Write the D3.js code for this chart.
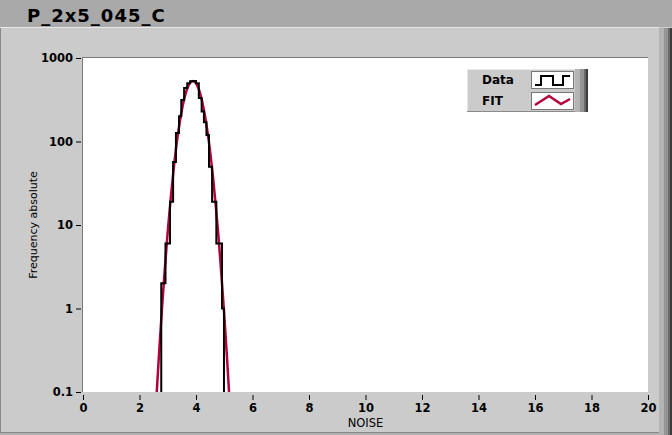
<!DOCTYPE html>
<html><head><meta charset="utf-8">
<script src="https://cdn.jsdelivr.net/npm/d3@7"></script>
<style>
html,body{margin:0;padding:0;background:#cbcbcb;}
svg{display:block;font-family:"DejaVu Sans",sans-serif;}
</style></head>
<body>
<svg id="c" width="672" height="435"></svg>
<script>
const title = "P_2x5_045_C";
const xLabel = "NOISE";
const yLabel = "Frequency absolute";
const xTicks = [0,2,4,6,8,10,12,14,16,18,20];
const yTicks = [0.1,1,10,100,1000];
const yTickLabels = ["0.1","1","10","100","1000"];
const seriesNames = ["Data","FIT"];
// histogram: bin start and count (last entry closes the histogram)
const binStart = [2.77,2.92,3.08,3.19,3.29,3.40,3.48,3.58,3.69,3.79,3.90,4.00,4.10,4.20,4.28,4.37,4.46,4.57,4.72,4.92,4.99];
const counts =   [2,   6,   19,  57,  126, 200, 314, 437, 500, 525, 530, 500, 331, 228, 170, 120, 50,  19,  6,   1,   0];
// fit curve
const fitX = [2.6,2.7,2.8,2.9,3.0,3.1,3.2,3.3,3.4,3.5,3.6,3.7,3.8,3.9,4.0,4.1,4.2,4.3,4.4,4.5,4.6,4.7,4.8,4.9,5.0,5.1,5.2];
const fitY = [0.087,0.32,1.05,3.1,8.4,20,44,86,151,239,342,439,509,531,498,422,321,220,136,76,38,17,7,2.5,0.84,0.25,0.067];

const svg = d3.select("#c");
// title bar
svg.append("rect").attr("x",0).attr("y",0).attr("width",672).attr("height",27).attr("fill","#a9a9a9");
svg.append("text").attr("x",27).attr("y",22).attr("font-size",18).attr("font-weight","bold")
  .attr("letter-spacing",1).attr("fill","#000").text(title);
// panel
svg.append("rect").attr("x",0).attr("y",27).attr("width",672).attr("height",408).attr("fill","#cbcbcb");
svg.append("line").attr("x1",0).attr("x2",659).attr("y1",27.5).attr("y2",27.5).attr("stroke","#e6e6e6");
svg.append("line").attr("x1",0.5).attr("x2",0.5).attr("y1",28).attr("y2",435).attr("stroke","#8a8a8a");
svg.append("line").attr("x1",0).attr("x2",672).attr("y1",432.5).attr("y2",432.5).attr("stroke","#8a8a8a");
svg.append("rect").attr("x",0).attr("y",433).attr("width",672).attr("height",2).attr("fill","#b0b0b0");
[["#b4b4b4",659,5],["#959595",664,4],["#6a6a6a",668,2],["#3c3c3c",670,2]].forEach(([c,x,w])=>{
  svg.append("rect").attr("x",x).attr("y",28).attr("width",w).attr("height",407).attr("fill",c);
});

const L=83,R=648,T=58,B=392;
const x = d3.scaleLinear().domain([0,20]).range([L,R]);
const y = d3.scaleLog().domain([0.1,1000]).range([B,T]);

svg.append("rect").attr("x",L).attr("y",T).attr("width",R-L).attr("height",B-T).attr("fill","#fff");
svg.append("line").attr("x1",L).attr("x2",R).attr("y1",T-0.5).attr("y2",T-0.5).attr("stroke","#7a7a7a");
svg.append("line").attr("x1",L-0.5).attr("x2",L-0.5).attr("y1",T-1).attr("y2",B).attr("stroke","#7a7a7a");

// axes
const xAxis = d3.axisBottom(x).tickValues(xTicks).tickSize(5).tickPadding(4).tickFormat(d3.format("d"));
const gx = svg.append("g").attr("transform",`translate(0,${B+3})`).call(xAxis);
gx.select(".domain").remove();
gx.selectAll("line").attr("stroke","#000");
gx.selectAll("text").attr("font-size",11.5).attr("font-weight","bold").attr("font-family","DejaVu Sans").attr("fill","#000");

const yAxis = d3.axisLeft(y).tickValues(yTicks).tickSize(5).tickPadding(3).tickFormat((d,i)=>yTickLabels[i]);
const gy = svg.append("g").attr("transform",`translate(${L-2},0)`).call(yAxis);
gy.select(".domain").remove();
gy.selectAll("line").attr("stroke","#000");
gy.selectAll("text").attr("font-size",11.5).attr("font-weight","bold").attr("font-family","DejaVu Sans").attr("fill","#000");

svg.append("text").attr("x",(L+R)/2).attr("y",427).attr("text-anchor","middle").attr("font-size",11.5).text(xLabel);
svg.append("text").attr("transform",`translate(37,${(T+B)/2}) rotate(-90)`).attr("text-anchor","middle")
  .attr("font-size",11).text(yLabel);

// clip
svg.append("clipPath").attr("id","clip").append("rect").attr("x",L).attr("y",T).attr("width",R-L).attr("height",B-T);
const plot = svg.append("g").attr("clip-path","url(#clip)");

const fitData = fitX.map((v,i)=>({x:v,y:fitY[i]}));
plot.append("path").datum(fitData)
  .attr("d",d3.line().x(d=>x(d.x)).y(d=>y(d.y)).curve(d3.curveMonotoneX))
  .attr("fill","none").attr("stroke","#b4003c").attr("stroke-width",2.5);

const histData = binStart.map((v,i)=>({x:v,y:counts[i]}));
const yy = v => v>0 ? y(v) : B+20;
plot.append("path").datum([{x:binStart[0],y:0}].concat(histData))
  .attr("d",d3.line().x(d=>x(d.x)).y(d=>yy(d.y)).curve(d3.curveStepAfter))
  .attr("fill","none").attr("stroke","#000").attr("stroke-width",2);

// legend
const lg = svg.append("g");
lg.append("rect").attr("x",467).attr("y",69).attr("width",121).attr("height",43).attr("fill","#cbcbcb");
lg.append("line").attr("x1",467).attr("x2",588).attr("y1",69.5).attr("y2",69.5).attr("stroke","#e8e8e8");
lg.append("line").attr("x1",467.5).attr("x2",467.5).attr("y1",69).attr("y2",112).attr("stroke","#e8e8e8");
lg.append("line").attr("x1",467).attr("x2",588).attr("y1",111.5).attr("y2",111.5).attr("stroke","#8a8a8a");
[["#b4b4b4",575,5],["#959595",580,4],["#6a6a6a",584,2],["#3c3c3c",586,2]].forEach(([c,xx,w])=>{
  lg.append("rect").attr("x",xx).attr("y",69).attr("width",w).attr("height",43).attr("fill",c);
});
const rows=[{name:seriesNames[0],y0:71},{name:seriesNames[1],y0:92}];
rows.forEach((r,i)=>{
  lg.append("text").attr("x",482).attr("y",r.y0+13).attr("font-size",12).attr("font-weight","bold").text(r.name);
  lg.append("rect").attr("x",531.5).attr("y",r.y0+0.5).attr("width",42).attr("height",17).attr("fill","#fff")
    .attr("stroke","#777");
});
lg.append("path").attr("d","M535,85 H541 V76 H553 V85 H563 V76 H570").attr("fill","none").attr("stroke","#000").attr("stroke-width",2);
lg.append("path").attr("d","M535,105 L549,96 L561,104 L570,99").attr("fill","none").attr("stroke","#b4003c").attr("stroke-width",2.5);
</script>
</body></html>
